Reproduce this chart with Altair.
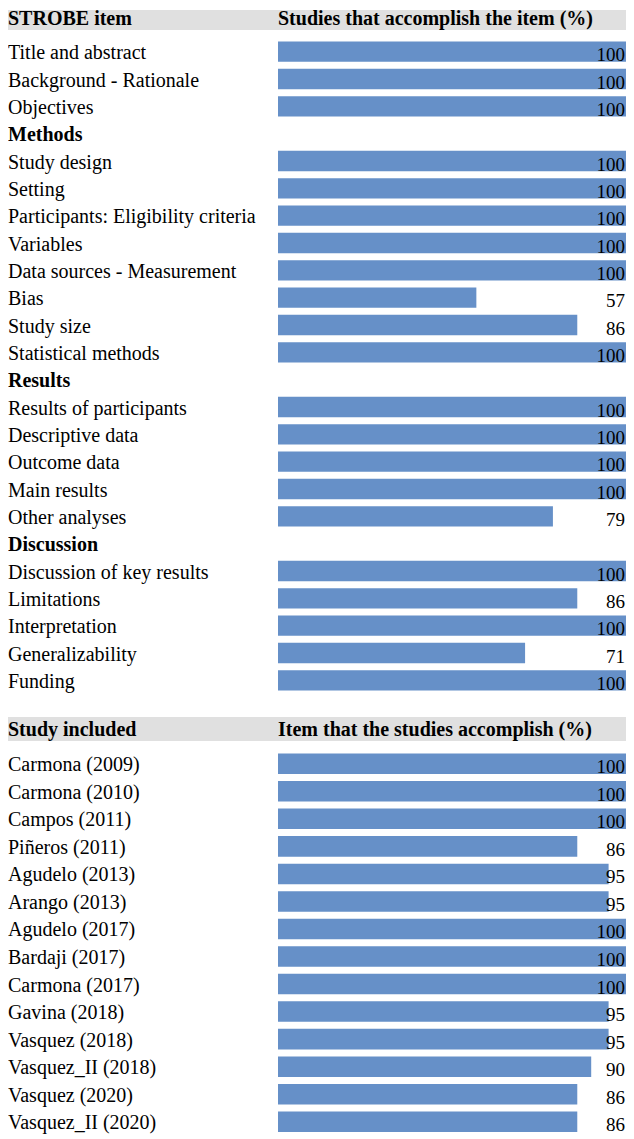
import altair as alt
import pandas as pd

FONT = "Liberation Serif"
BAR_COLOR = "#6690c8"
HEAD_COLOR = "#e0e0e0"
W = 618

# ---- data ----
strobe_items = [
    "Title and abstract", "Background - Rationale", "Objectives", "Methods",
    "Study design", "Setting", "Participants: Eligibility criteria", "Variables",
    "Data sources - Measurement", "Bias", "Study size", "Statistical methods",
    "Results", "Results of participants", "Descriptive data", "Outcome data",
    "Main results", "Other analyses", "Discussion", "Discussion of key results",
    "Limitations", "Interpretation", "Generalizability", "Funding",
]
strobe_values = [100, 100, 100, None, 100, 100, 100, 100, 100, 57, 86, 100,
                 None, 100, 100, 100, 100, 79, None, 100, 86, 100, 71, 100]
strobe_sections = ["Methods", "Results", "Discussion"]

studies = [
    "Carmona (2009)", "Carmona (2010)", "Campos (2011)", "Piñeros (2011)",
    "Agudelo (2013)", "Arango (2013)", "Agudelo (2017)", "Bardaji (2017)",
    "Carmona (2017)", "Gavina (2018)", "Vasquez (2018)", "Vasquez_II (2018)",
    "Vasquez (2020)", "Vasquez_II (2020)",
]
study_values = [100, 100, 100, 86, 95, 95, 100, 100, 100, 95, 95, 90, 86, 86]

headers_1 = ["STROBE item", "Studies that accomplish the item (%)"]
headers_2 = ["Study included", "Item that the studies accomplish (%)"]


def header(labels, height, top, bottom, baseline):
    df = pd.DataFrame({"left": [labels[0]], "right": [labels[1]]})
    base = alt.Chart(df)
    rect = base.mark_rect(color=HEAD_COLOR).encode(
        x=alt.value(0), x2=alt.value(W), y=alt.value(top), y2=alt.value(bottom)
    )
    t1 = base.mark_text(align="left", baseline="alphabetic", font=FONT,
                        fontSize=20, fontWeight="bold", color="black").encode(
        x=alt.value(0), y=alt.value(baseline), text="left:N")
    t2 = base.mark_text(align="left", baseline="alphabetic", font=FONT,
                        fontSize=20, fontWeight="bold", color="black").encode(
        x=alt.value(270), y=alt.value(baseline), text="right:N")
    return alt.layer(rect, t1, t2).properties(width=W, height=height)


def panel(items, values, sections, height, outer, align):
    df = pd.DataFrame({
        "item": items,
        "value": values,
        "bold": [it in sections for it in items],
    })
    yscale = alt.Scale(domain=items, paddingInner=0.255, paddingOuter=outer,
                       align=align)
    y = alt.Y("item:N", scale=yscale, axis=None, sort=None)
    base = alt.Chart(df)
    bars = base.transform_filter("datum.value != null").mark_bar(
        color=BAR_COLOR).encode(
        x=alt.X("value:Q", scale=alt.Scale(domain=[0, 100], range=[270, 618]),
                axis=None),
        y=y,
    )
    vals = base.transform_filter("datum.value != null").mark_text(
        align="right", baseline="alphabetic", dy=9.5, font=FONT, fontSize=19,
        color="black").encode(
        x=alt.value(617), y=y, text=alt.Text("value:Q", format="d"))
    labels = base.transform_filter("!datum.bold").mark_text(
        align="left", baseline="alphabetic", dy=7.5, font=FONT, fontSize=20,
        color="black").encode(x=alt.value(0), y=y, text="item:N")
    bold = base.transform_filter("datum.bold").mark_text(
        align="left", baseline="alphabetic", dy=7.5, font=FONT, fontSize=20,
        fontWeight="bold", color="black").encode(x=alt.value(0), y=y, text="item:N")
    return alt.layer(bars, vals, labels, bold).properties(width=W, height=height)


h1 = header(headers_1, 28, 0, 20, 14.7)
p1 = panel(strobe_items, strobe_values, strobe_sections, 656, 0.1275, 0.5)
h2 = header(headers_2, 56, 23, 47, 42)
p2 = panel(studies, study_values, [], 383, 0.0817, 0.778)

chart = alt.vconcat(h1, p1, h2, p2, spacing=0).properties(padding=0).configure_view(
    stroke=None
)

chart.save("out.html", embed_options={"renderer": "svg", "actions": False})
